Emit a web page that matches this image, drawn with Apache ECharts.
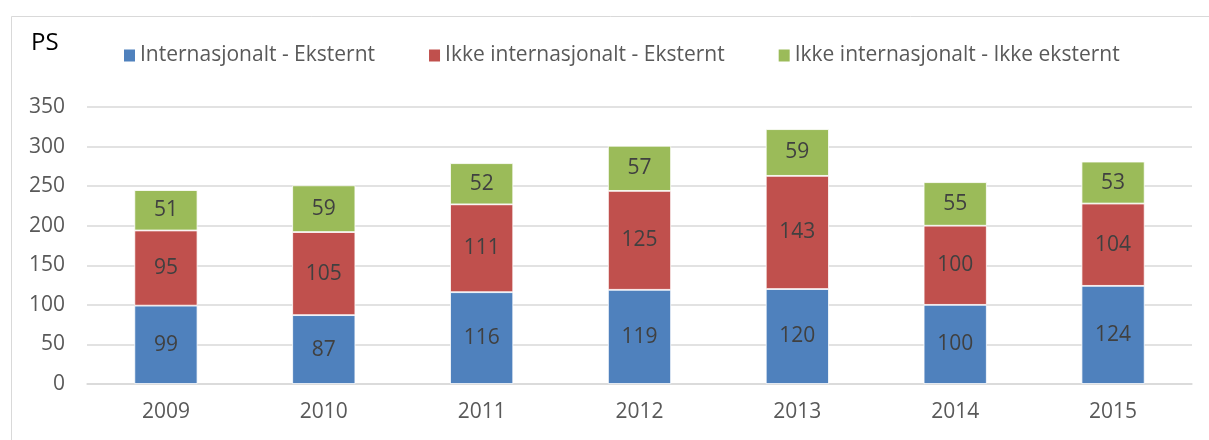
<!DOCTYPE html>
<html>
<head>
<meta charset="utf-8">
<script src="https://cdn.jsdelivr.net/npm/echarts@6/dist/echarts.min.js"></script>
<style>
html,body{margin:0;padding:0;background:#fff;}
#chart{width:1209px;height:440px;}
</style>
</head>
<body>
<div id="chart"></div>
<script>
const years = ['2009','2010','2011','2012','2013','2014','2015'];
const seriesNames = ['Internasjonalt - Eksternt','Ikke internasjonalt - Eksternt','Ikke internasjonalt - Ikke eksternt'];
const intEkst = [99, 87, 116, 119, 120, 100, 124];
const ikkeIntEkst = [95, 105, 111, 125, 143, 100, 104];
const ikkeIntIkkeEkst = [51, 59, 52, 57, 59, 55, 53];
const colors = ['#4F81BD', '#C0504D', '#9BBB59'];

const FONT = '"Open Sans", sans-serif';
const chart = echarts.init(document.getElementById('chart'));

function mk(name, data, color) {
  return {
    name: name, type: 'bar', stack: 'total', data: data,
    barWidth: '40%',
    itemStyle: { color: color, borderColor: '#ffffff', borderWidth: 0.8 },
    label: { show: true, position: 'inside', color: '#404040', fontFamily: FONT, fontSize: 21 },
    emphasis: { disabled: true }
  };
}

chart.setOption({
  animation: false,
  backgroundColor: '#ffffff',
  graphic: [
    { type: 'rect', shape: { x: 11.5, y: 16.5, width: 1400, height: 600 }, style: { fill: 'none', stroke: '#d9d9d9', lineWidth: 1 }, silent: true },
    { type: 'text', left: 31, top: 31, style: { text: 'PS', fontFamily: FONT, fontSize: 24, fill: '#000000' } }
  ],
  legend: {
    left: 117, top: 40,
    itemWidth: 13, itemHeight: 14, itemGap: 52,
    icon: 'rect',
    textStyle: { fontFamily: FONT, fontSize: 21, color: '#595959', padding: [0,0,0,-1] },
    data: seriesNames
  },
  grid: { left: 87, right: 17, top: 107, bottom: 56 },
  xAxis: {
    type: 'category', data: years,
    axisLine: { lineStyle: { color: '#d9d9d9', width: 1.5 } },
    axisTick: { show: false },
    axisLabel: { fontFamily: FONT, fontSize: 21, color: '#595959', margin: 18 }
  },
  yAxis: {
    type: 'value', min: 0, max: 350, interval: 50,
    axisLine: { show: false }, axisTick: { show: false },
    splitLine: { lineStyle: { color: '#d9d9d9', width: 1.5 } },
    axisLabel: { fontFamily: FONT, fontSize: 21, color: '#595959', margin: 22 }
  },
  series: [
    mk(seriesNames[0], intEkst, colors[0]),
    mk(seriesNames[1], ikkeIntEkst, colors[1]),
    mk(seriesNames[2], ikkeIntIkkeEkst, colors[2])
  ]
});
</script>
</body>
</html>
